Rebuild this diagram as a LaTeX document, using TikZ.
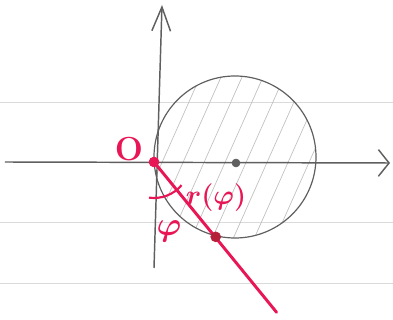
\documentclass[tikz,border=0pt]{standalone}
\usetikzlibrary{arrows.meta}
\definecolor{inkred}{RGB}{232,22,84}
\definecolor{dotred}{RGB}{180,32,58}
\definecolor{pencil}{RGB}{95,95,95}
\definecolor{ruled}{RGB}{218,218,218}
\tikzset{
  axis/.style={pencil, line width=1.1pt},
  redpen/.style={inkred, line width=2.2pt, line cap=round},
  hatch/.style={pencil!40, line width=0.5pt},
  handlabel/.style={inkred, font=\fontsize{25}{28}\selectfont\bfseries\boldmath},
}
\begin{document}
\begin{tikzpicture}[x=0.75pt,y=0.75pt]
    \useasboundingbox (-154,-158) rectangle (239,162);
    % ruled paper
    \foreach \y in {60,-60,-121}
      \draw[ruled, line width=0.6pt] (-154,\y) -- (239,\y);
    \coordinate (O) at (0,0);
    \coordinate (C) at (81,5);
    \coordinate (M) at (82,-1);
    \coordinate (P) at (-50.5:97);
    \coordinate (E) at (-50.8:194);
    \coordinate (xl) at (-149,0);
    \coordinate (xr) at (236,-1);
    \coordinate (yb) at (0,-106);
    \coordinate (yt) at (8,157);
    % hatched disc
    \begin{scope}
      \clip (C) circle (81);
      \foreach \i in {10,31,...,166}
        \draw[hatch] (\i,4) ++(246:100) -- ++(66:200);
    \end{scope}
    \draw[pencil, line width=0.9pt] (C) circle (81);
    \draw[axis, -{Straight Barb[length=8pt,width=20pt]}] (xl) -- (xr);
    \draw[axis, -{Straight Barb[length=18pt,width=14pt]}] (yb) -- (yt);
    \filldraw[pencil] (M) circle (4);
    \draw[redpen] (O) -- (E);
    \draw[inkred, line width=1.6pt] (O) ++(-98:36) arc[start angle=-98, end angle=-40, radius=36];
    \filldraw[inkred] (O) circle (5);
    \filldraw[dotred] (P) circle (5);
    \node[handlabel] (o) at (-25,13) {O};
    \node[handlabel, font=\fontsize{20}{22}\selectfont\boldmath] (r) at (62,-36) {$r(\varphi)$};
    \node[handlabel] (phi) at (15,-69) {$\varphi$};
  \end{tikzpicture}
\end{document}
